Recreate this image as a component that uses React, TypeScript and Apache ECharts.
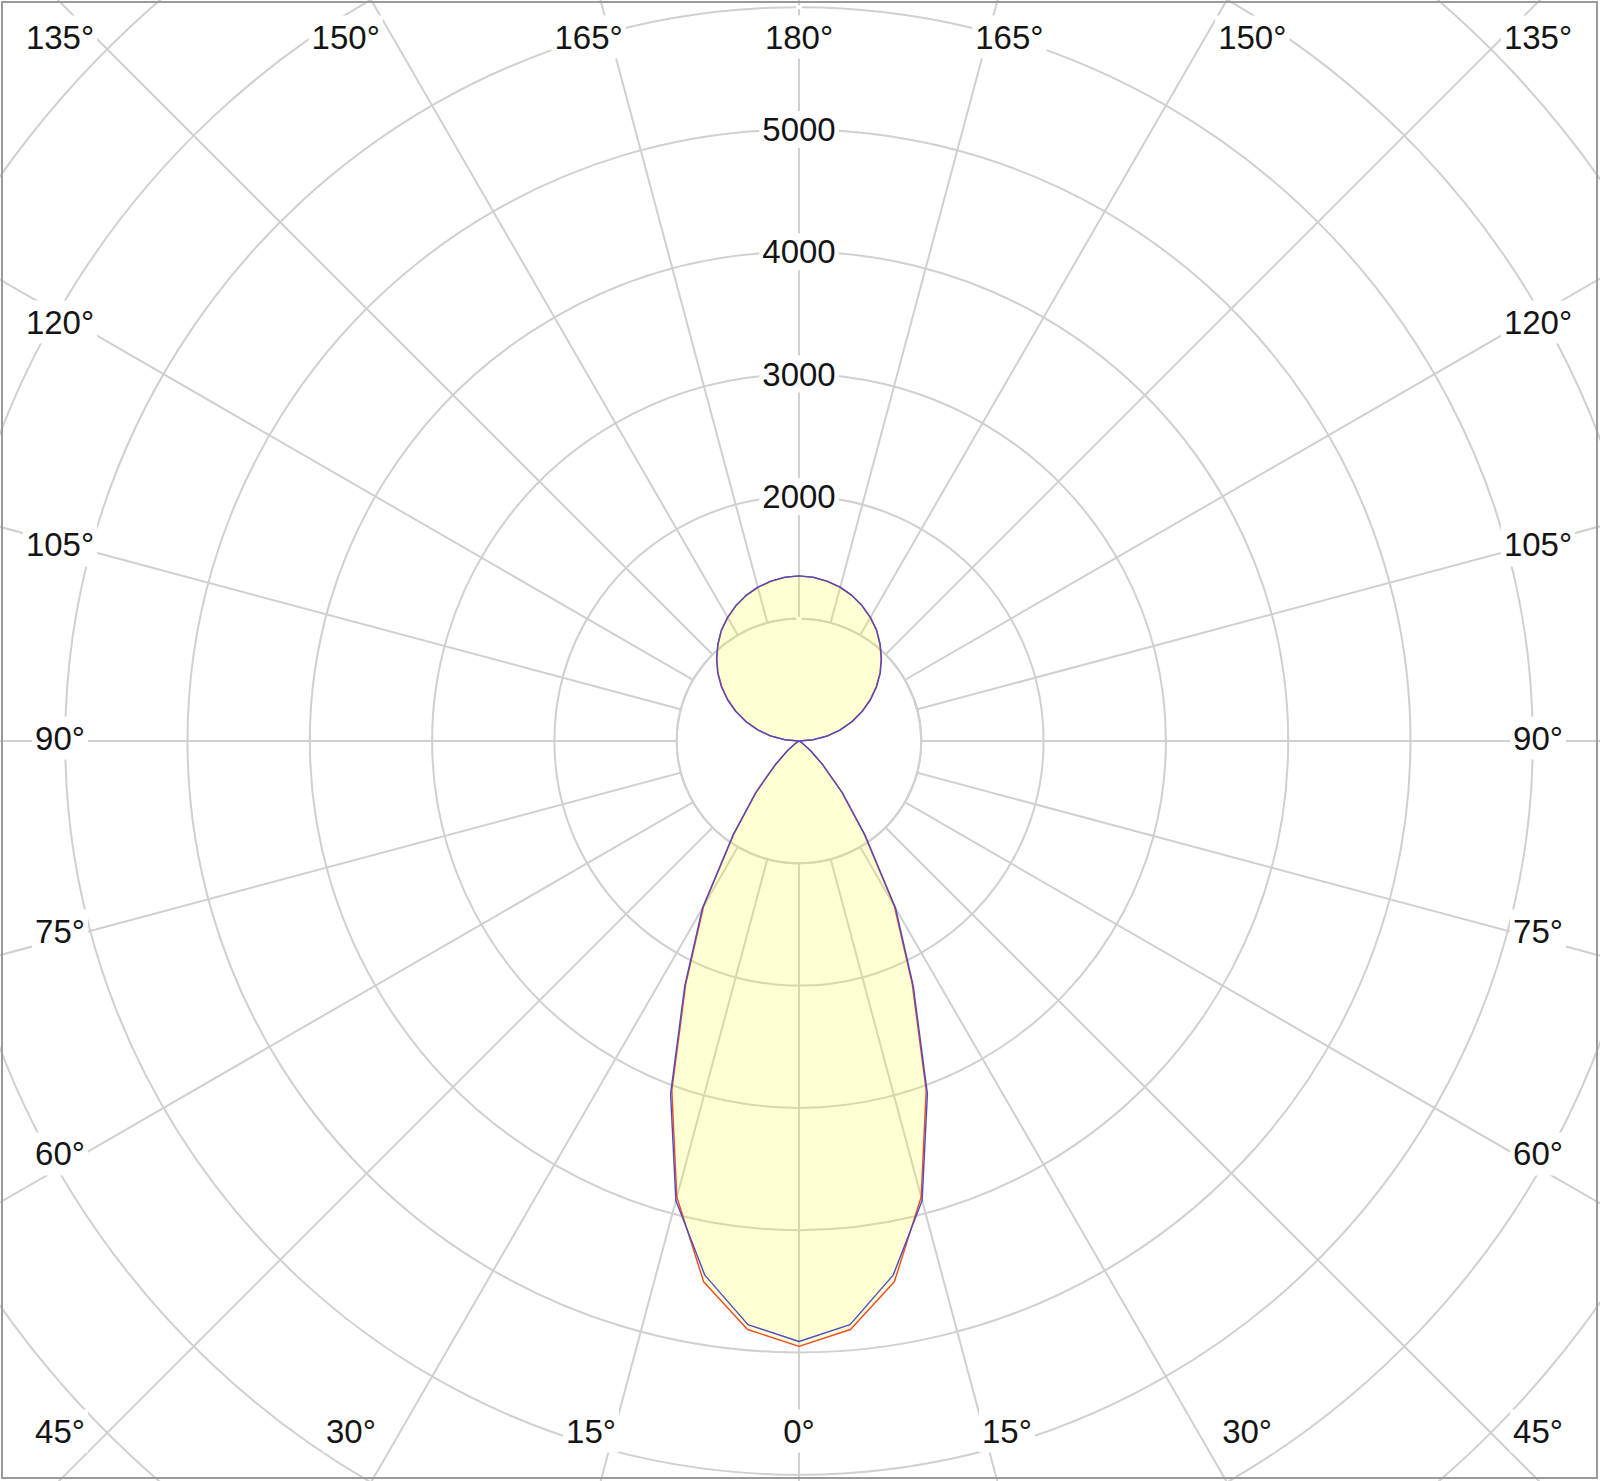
import React, { useEffect, useRef } from "react";
import * as echarts from "echarts";

// gamma angles (degrees from nadir), 5° step, 0..180
const GAMMA = [
  0, 5, 10, 15, 20, 25, 30, 35, 40, 45, 50, 55, 60, 65, 70, 75, 80, 85, 90,
  95, 100, 105, 110, 115, 120, 125, 130, 135, 140, 145, 150, 155, 160, 165, 170, 175, 180,
];
// C0/C180 plane (red)
const PLANE_RED = [
  4950, 4830, 4490, 3860, 3040, 2190, 1560, 930, 540, 270, 120, 40, 10, 0, 0, 0, 0, 0, 0,
  110, 230, 345, 455, 565, 670, 770, 865, 950, 1030, 1105, 1165, 1220, 1265, 1300, 1325, 1343, 1350,
];
// C90/C270 plane (blue)
const PLANE_BLUE = [
  4910, 4790, 4435, 3890, 3070, 2210, 1580, 945, 550, 278, 125, 42, 11, 0, 0, 0, 0, 0, 0,
  115, 235, 350, 462, 570, 675, 775, 868, 953, 1033, 1107, 1168, 1222, 1267, 1302, 1327, 1344, 1350,
];
const RADIUS_LABELS = [2000, 3000, 4000, 5000];
const ANGLE_LABELS = [0, 15, 30, 45, 60, 75, 90, 105, 120, 135, 150, 165, 180];

const W = 1600;
const H = 1481;
const CX = 799;
const CY = 741;
const R_MAX = 9000;
const PX_PER_UNIT = 0.1223;
const HALF_X = 739;
const TOP_D = 701;
const BOT_D = 693;
const LABEL_DY = -3;
const FONT = '"Liberation Sans", Arial, sans-serif';

// polar angle value a: 0 at top, clockwise. right half a = 180 - gamma, left half a = 180 + gamma
function buildData(values: number[]) {
  const out: number[][] = [];
  for (let i = GAMMA.length - 1; i >= 0; i--) out.push([values[i], 180 - GAMMA[i]]);
  for (let i = 1; i < GAMMA.length; i++) out.push([values[i], 180 + GAMMA[i]]);
  return out;
}

function labelPos(gamma: number, side: number) {
  const g = (gamma * Math.PI) / 180;
  const dx = side * Math.sin(g);
  const dy = Math.cos(g);
  const tx = Math.abs(dx) > 1e-9 ? HALF_X / Math.abs(dx) : Infinity;
  const ty = Math.abs(dy) > 1e-9 ? (dy < 0 ? TOP_D : BOT_D) / Math.abs(dy) : Infinity;
  if (ty <= tx) {
    let x = dx * ty * 1.12;
    x = Math.max(-HALF_X, Math.min(HALF_X, x));
    return [CX + x, CY + (dy < 0 ? -TOP_D : BOT_D) + LABEL_DY];
  }
  return [CX + side * HALF_X, CY + dy * tx * 0.975 + LABEL_DY];
}

export default function App() {
  const ref = useRef<HTMLDivElement>(null);
  useEffect(() => {
    if (!ref.current) return;
    const chart = echarts.init(ref.current, null, { renderer: "svg" });

    const texts: any[] = [];
    ANGLE_LABELS.forEach((g) => {
      const sides = g === 0 || g === 180 ? [1] : [-1, 1];
      sides.forEach((s) => {
        const [x, y] = labelPos(g, s);
        texts.push({
          type: "text",
          x,
          y,
          z: 10,
          style: {
            text: g + "°",
            font: `33px ${FONT}`,
            fill: "#141414",
            align: "center",
            verticalAlign: "middle",
            textAlign: "center",
            textVerticalAlign: "middle",
            backgroundColor: "#fff",
            padding: [5, 3],
          },
        });
      });
    });

    chart.setOption({
      animation: false,
      backgroundColor: "#fff",
      polar: { center: [CX, CY], radius: R_MAX * PX_PER_UNIT },
      angleAxis: {
        type: "value",
        min: 0,
        max: 360,
        interval: 15,
        startAngle: 90,
        clockwise: true,
        z: 0,
        axisLine: { show: false },
        axisTick: { show: false },
        axisLabel: { show: false },
        splitLine: { show: true, lineStyle: { color: "#d0d0d0", width: 2 } },
      },
      radiusAxis: {
        type: "value",
        min: 0,
        max: R_MAX,
        interval: 1000,
        z: 2,
        axisLine: { show: false },
        axisTick: { show: false },
        axisLabel: {
          show: true,
          margin: 0,
          align: "center",
          verticalAlign: "middle",
          fontSize: 33,
          fontFamily: FONT,
          color: "#141414",
          backgroundColor: "#fff",
          padding: [2, 3],
          formatter: (v: number) => (RADIUS_LABELS.indexOf(v) >= 0 ? String(v) : ""),
        },
        splitLine: { show: true, lineStyle: { color: "#d0d0d0", width: 2 } },
      },
      graphic: [
        {
          type: "circle",
          z: 1,
          shape: { cx: CX, cy: CY, r: 1000 * PX_PER_UNIT },
          style: { fill: "#fff", stroke: "#d0d0d0", lineWidth: 2 },
        },
        {
          type: "rect",
          z: 20,
          shape: { x: 2, y: 2, width: W - 5, height: H - 5 },
          style: { fill: "none", stroke: "#9a9a9a", lineWidth: 2 },
        },
        ...texts,
      ],
      series: [
        {
          type: "line",
          coordinateSystem: "polar",
          z: 3,
          symbol: "none",
          smooth: false,
          data: buildData(PLANE_RED),
          lineStyle: { color: "#f04a1e", width: 1.4 },
          areaStyle: { color: "rgba(255,255,0,0.24)" },
        },
        {
          type: "line",
          coordinateSystem: "polar",
          z: 4,
          symbol: "none",
          smooth: false,
          data: buildData(PLANE_BLUE),
          lineStyle: { color: "#4b4bc8", width: 1.4 },
        },
      ],
    });
    return () => chart.dispose();
  }, []);
  return (
    <div
      ref={ref}
      style={{ position: "absolute", left: 0, top: 0, width: W, height: H }}
    />
  );
}
